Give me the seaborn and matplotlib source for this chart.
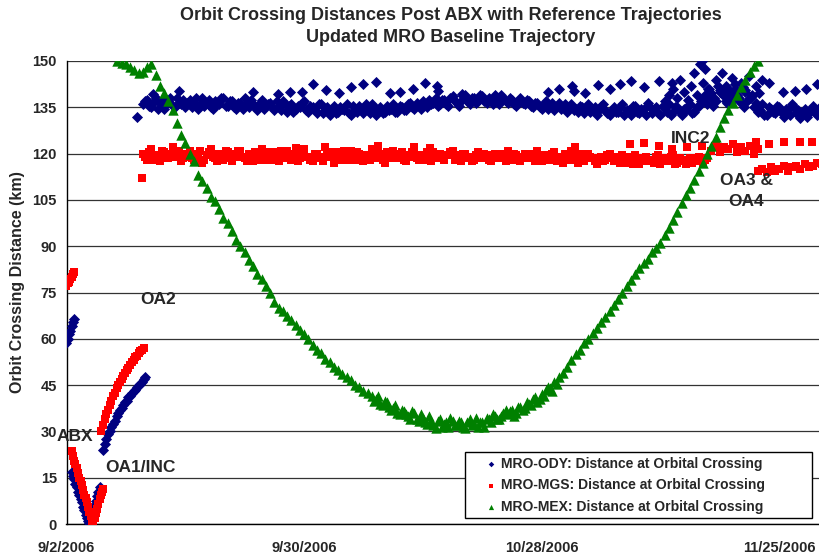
import numpy as np
import pandas as pd
import matplotlib
matplotlib.use("Agg")
import matplotlib.pyplot as plt
import seaborn as sns

# Day 0 of the chart
start_date = "2006-09-02"
tick_labels = ["9/2/2006", "9/30/2006", "10/28/2006", "11/25/2006"]
y_ticks = [0, 15, 30, 45, 60, 75, 90, 105, 120, 135, 150]

# ---------------- MRO-ODY (days since 9/2/2006, km) ----------------
ody_a_days = [0.0, 0.15, 0.3, 0.45, 0.6, 0.75, 0.9]
ody_a_vals = [58.5, 60, 61.5, 62.5, 64, 65.5, 66.5]

ody_b_days = np.arange(0.6, 3.91, 0.15)
ody_b_vals = [17, 15.5, 14.5, 13, 12, 10.5, 9.5, 8, 7, 5.5, 4.5, 3, 2, 1, 0.3,
              1.5, 3, 4.5, 6, 7.5, 9, 10.5, 12]

ody_c_days = np.arange(4.3, 9.31, 0.2)
ody_c_vals = [24, 26, 27.5, 29, 30, 31.5, 32.5, 33.5, 35, 36, 37, 37.5, 38.5,
              39.5, 40, 41, 41.5, 42.5, 43, 43.5, 44.5, 45, 45.5, 46, 47, 47.5]

ody_band_days = np.arange(9.0, 89.01, 0.5)
ody_band_vals = [
    136, 137.5, 135, 138, 136.5, 134.5, 137, 135.5, 138, 136,
    135, 137.5, 136, 134.5, 138, 136.5, 135, 137, 136, 138,
    135.5, 137, 134.5, 136.5, 138, 135, 136, 134, 137.5, 135.5,
    136.5, 134, 135.5, 137, 133.5, 136, 134.5, 135, 137, 133.5,
    135, 133, 136, 134, 132.5, 135.5, 133.5, 134.5, 136, 132.5,
    134, 135.5, 133, 134.5, 136, 132.5, 135, 133.5, 134, 136,
    133.5, 135, 134, 136.5, 134.5, 135.5, 137, 135, 136, 138,
    136, 137.5, 135.5, 138.5, 136.5, 137, 139, 136, 138, 137,
    138.5, 136.5, 137.5, 139, 136, 138, 136.5, 137.5, 135.5, 138,
    136, 137, 135, 136.5, 134.5, 137, 135.5, 134, 136.5, 135,
    133.5, 136, 134.5, 135.5, 133, 136, 134, 132.5, 135.5, 134,
    132.5, 135, 133.5, 136, 134, 132.5, 135.5, 133, 134.5, 136.5,
    133, 135, 132.5, 134.5, 136, 133.5, 135, 132.5, 134, 136,
    133.5, 135.5, 138, 136, 139.5, 137, 140, 138.5, 141, 137.5,
    139, 136.5, 140.5, 138, 135, 133.5, 136, 132.5, 134.5, 133,
    135, 132, 134, 136, 133, 131.5, 134.5, 133, 135.5, 132.5,
    134,
]

ody_band2_days = np.arange(9.25, 88.76, 0.5)
ody_band2_vals = [
    137, 135.5, 136.5, 134.5, 137.5, 136, 138, 135, 136.5, 137.5,
    136.5, 135, 138, 136, 135.5, 137.5, 134.5, 136, 138, 135.5,
    137, 135, 136.5, 134.5, 136, 137.5, 135, 136.5, 134.5, 136,
    135, 137, 134, 136, 135.5, 133.5, 135.5, 136.5, 134, 135.5,
    134, 136, 133, 135, 134.5, 133, 135, 134, 133, 135.5,
    133.5, 134.5, 136, 133, 135, 134, 133, 135.5, 134.5, 133.5,
    135.5, 134, 136, 135, 136.5, 134.5, 136, 137.5, 136.5, 135.5,
    137.5, 136, 138, 137, 135.5, 138.5, 137, 138, 136.5, 139,
    137, 138, 136, 137.5, 139, 137, 138, 136, 137, 136.5,
    137.5, 135.5, 136.5, 135, 136, 134.5, 136.5, 135.5, 134.5, 136,
    135, 134, 133.5, 135, 134.5, 133.5, 135, 134, 136, 133,
    134, 133.5, 135, 132.5, 134, 135.5, 133.5, 134.5, 132.5, 135,
    134.5, 133, 135.5, 133.5, 132.5, 135, 133.5, 134.5, 135.5, 133,
    135, 137, 139, 141, 138, 142, 139.5, 137, 140, 142.5,
    138, 141.5, 137, 139, 136.5, 134, 132.5, 135, 133.5, 135.5,
    133.5, 134.5, 132.5, 135, 134, 133, 132, 134.5, 133.5, 135,
]

ody_out_days = [8.3, 10.2, 13.3, 22.0, 24.9, 26.3, 27.8, 29.1, 30.6, 32.1, 33.5,
                35.0, 36.5, 38.1, 39.3, 40.8, 42.3, 43.7, 43.8, 46.6, 56.8, 58.1,
                59.6, 59.8, 61.1, 62.6, 64.0, 65.2, 66.5, 68.0, 69.8, 71.3, 82.8,
                84.4, 85.9, 87.1, 88.5]
ody_out_vals = [132, 139.3, 140.3, 140, 139.3, 140, 140, 142.5, 140.6, 139.6, 141.6,
                142.5, 143.2, 139.6, 140, 141, 142.9, 141.9, 140.3, 139.3, 140, 141,
                141.9, 140.3, 139.6, 142.2, 141, 142.5, 143.5, 141.5, 143.5, 143, 143,
                140, 140.3, 141, 142.5]

ody_cloud_days = [70.5, 71.0, 71.5, 72.0, 72.3, 72.8, 73.2, 73.6, 74.0, 74.3, 74.7,
                  74.9, 75.0, 75.3, 75.6, 76.0, 76.2, 76.5, 77.0, 77.3, 77.7, 77.8,
                  78.0, 78.4, 78.8, 79.2, 79.5, 79.8, 80.0, 80.4, 80.8, 81.2, 81.6, 82.0]
ody_cloud_vals = [137, 139, 141, 138, 144, 140, 137.5, 142, 146, 139, 149,
                  150, 143, 147.5, 141, 138, 135.5, 144, 140.5, 146, 142, 136.5,
                  139, 144.5, 141, 137.5, 143, 135, 140, 145, 138.5, 142, 139.5, 144]

# ---------------- MRO-MGS ----------------
mgs_a_days = [0.0, 0.15, 0.3, 0.45, 0.6, 0.75, 0.9]
mgs_a_vals = [77, 78, 78.5, 79.5, 80, 81, 81.5]

mgs_b_days = np.arange(0.6, 4.36, 0.15)
mgs_b_vals = [23.5, 22, 20.5, 19.5, 18, 16.5, 15, 14, 12.5, 11, 9.5, 8.5, 7,
              5.5, 4, 2.5, 1, 0.5, 2, 3.5, 5, 6.5, 8, 9.5, 10.5, 11.5]

mgs_c_days = np.arange(4.1, 9.11, 0.2)
mgs_c_vals = [30, 32, 34, 35.5, 37, 38.5, 40, 41.5, 42.5, 44, 45, 46, 47, 48,
              49, 50, 50.5, 51.5, 52.5, 53, 54, 54.5, 55.5, 56, 56.5, 57]

mgs_band_days = np.arange(9.0, 75.51, 0.5)
mgs_band_vals = [
    120, 118, 121.5, 119, 117.5, 120.5, 118.5, 122, 119.5, 117.5,
    119, 121, 118, 120, 117, 119.5, 121.5, 118.5, 120, 118,
    120.5, 117.5, 119, 121, 118.5, 120, 117.5, 119.5, 121.5, 118,
    119, 120.5, 117.5, 119.5, 121, 118, 120, 118.5, 121.5, 119,
    117.5, 120, 118.5, 122, 119, 117, 120.5, 118, 119.5, 121,
    118, 120, 117.5, 119.5, 121.5, 118.5, 120, 117, 119, 121,
    118.5, 120.5, 117.5, 119, 121, 118, 119.5, 120.5, 117.5, 119,
    120, 118, 119.5, 121, 118.5, 117.5, 120, 119, 118, 120.5,
    118.5, 119.5, 117.5, 120, 118.5, 119, 121, 118, 119.5, 117.5,
    120, 118.5, 119, 121, 117.5, 119.5, 118, 120.5, 118.5, 117,
    119.5, 121, 118, 119, 117.5, 120, 118.5, 116.5, 119, 118,
    120, 117.5, 118.5, 119.5, 117, 118, 119.5, 116.5, 118.5, 117.5,
    118, 119, 116.5, 118.5, 117.5, 119.5, 117, 118, 116.5, 118.5,
    117.5, 119, 117, 118.5,
]

mgs_band2_days = np.arange(9.25, 75.26, 0.5)
mgs_band2_vals = [
    119, 120.5, 118, 119.5, 121, 118.5, 120, 119, 121, 118.5,
    120, 118.5, 119.5, 121, 118, 120.5, 119, 117.5, 120, 121,
    118.5, 120, 121, 119, 117.5, 119.5, 120.5, 118, 119, 120.5,
    118, 119.5, 121, 118.5, 120, 119, 117.5, 120.5, 119, 118,
    120, 119, 117.5, 119.5, 120.5, 118.5, 119, 121, 118, 119.5,
    120.5, 118.5, 119.5, 118, 120, 119.5, 118, 120.5, 118.5, 119.5,
    120, 118, 119.5, 120.5, 118.5, 119.5, 118, 119, 120.5, 118.5,
    118.5, 119.5, 120.5, 118, 119.5, 120, 118.5, 117.5, 119.5, 118.5,
    120, 118, 119.5, 118.5, 120, 117.5, 119, 120, 118.5, 119,
    118.5, 120, 117.5, 119, 119.5, 118, 120, 117.5, 119, 120,
    118, 119.5, 117, 120, 118.5, 119, 117.5, 118.5, 117.5, 119.5,
    118.5, 119, 117, 118, 119, 116.5, 118.5, 117.5, 119, 118,
    117, 119.5, 117.5, 118, 119, 116.5, 118.5, 117.5, 118, 117,
    118.5, 117.5, 118,
]

mgs_out_days = [8.9, 27.0, 36.7, 41.0, 42.8, 59.9]
mgs_out_vals = [112, 121.8, 122.4, 122, 121.7, 122.3]

mgs_inc2_days = [76.0, 76.5, 77.0, 77.5, 78.0, 78.5, 79.0, 79.5, 80.0, 80.5, 81.0, 81.5]
mgs_inc2_vals = [121, 122.5, 120.5, 122, 121.5, 123, 120.5, 122, 121, 122.5, 120, 121.5]

mgs_upper_days = [66.4, 68.0, 69.8, 71.4, 73.1, 74.9, 81.2, 82.8, 84.6, 86.4, 87.9]
mgs_upper_vals = [123, 123.3, 122.4, 121.4, 122, 122.4, 123.7, 123, 123.7, 123.7, 123.7]

mgs_oa3_days = np.arange(81.5, 89.01, 0.5)
mgs_oa3_vals = [114.5, 115, 114, 115.5, 114.5, 115, 116, 114.5, 115.5, 116,
                115, 116.5, 115.5, 116, 117, 116.5]

# ---------------- MRO-MEX ----------------
mex_days = np.arange(6.0, 81.51, 0.5)
mex_vals = [
    150, 149.5, 149, 148, 147, 146, 146.5, 148, 149, 145.5,
    142, 139.5, 137, 134, 130, 126, 123.5, 120, 117.5, 113,
    111, 109, 106, 104.5, 102, 99, 97.5, 95, 92, 90,
    88, 85.5, 83.5, 81, 79.5, 77, 75, 72, 70, 69,
    67.5, 66, 64.5, 63, 61.5, 60, 58, 56.5, 55.5, 53.5,
    52.5, 51, 50, 48.5, 47.5, 46.5, 45, 44.5, 43, 42.5,
    41.5, 40.5, 39, 40, 38, 37.5, 36, 37, 35.5, 34,
    36, 33.5, 34.5, 32.5, 33.5, 31, 34, 32.5, 31.5, 33.5,
    32, 33, 31, 34, 32.5, 31.5, 33, 34.5, 33, 35,
    34, 36, 35.5, 37, 36, 38, 37.5, 39, 40.5, 39.5,
    42, 43.5, 44, 46, 47.5, 49, 51, 53, 55, 56.5,
    58.5, 60, 62, 63.5, 65.5, 67, 69, 71, 73, 75,
    77, 79, 81, 83, 84.5, 86, 88, 89.5, 91, 93.5,
    96, 98.5, 101, 104, 106.5, 109, 111.5, 114.5, 117, 120,
    122.5, 125.5, 128.5, 131.5, 134, 136.5, 139, 141.5, 144, 146.5,
    148.5, 150,
]

mex2_days = np.arange(36.25, 57.76, 0.5)
mex2_vals = [
    40, 41.5, 38.5, 39.5, 37, 38.5, 35.5, 36.5, 35, 36.5,
    34, 35.5, 33, 35, 32, 33.5, 31.5, 33, 34.5, 32,
    33.5, 31.5, 33, 32, 34.5, 33, 31.5, 34, 35.5, 34,
    35, 37, 36.5, 35, 38, 37, 39.5, 38.5, 41, 40.5,
    41.5, 44.5, 43, 45.5,
]

labels = ["MRO-ODY: Distance at Orbital Crossing",
          "MRO-MGS: Distance at Orbital Crossing",
          "MRO-MEX: Distance at Orbital Crossing"]

t0 = pd.Timestamp(start_date)


def to_dates(days):
    return t0 + pd.to_timedelta(np.asarray(days, dtype=float), unit="D")


def frame(parts):
    d = np.concatenate([np.asarray(p[0], dtype=float) for p in parts])
    v = np.concatenate([np.asarray(p[1], dtype=float) for p in parts])
    return pd.DataFrame({"date": to_dates(d), "km": v})


ody = frame([(ody_a_days, ody_a_vals), (ody_b_days, ody_b_vals), (ody_c_days, ody_c_vals),
             (ody_band_days, ody_band_vals), (ody_band2_days, ody_band2_vals),
             (ody_out_days, ody_out_vals), (ody_cloud_days, ody_cloud_vals)])
mgs = frame([(mgs_a_days, mgs_a_vals), (mgs_b_days, mgs_b_vals), (mgs_c_days, mgs_c_vals),
             (mgs_band_days, mgs_band_vals), (mgs_band2_days, mgs_band2_vals),
             (mgs_out_days, mgs_out_vals), (mgs_inc2_days, mgs_inc2_vals),
             (mgs_upper_days, mgs_upper_vals), (mgs_oa3_days, mgs_oa3_vals)])
mex = frame([(mex_days, mex_vals), (mex2_days, mex2_vals)])

sns.set_style("white")
plt.rcParams["font.family"] = ["Liberation Sans", "DejaVu Sans"]
plt.rcParams["font.weight"] = "bold"

fig = plt.figure(figsize=(8.2, 5.56), dpi=100)
ax = fig.add_axes([66.5 / 820, 32 / 556, 753.5 / 820, 463 / 556])

sns.scatterplot(data=ody, x="date", y="km", marker="D", s=32, color="#000080",
                linewidth=0, label=labels[0], ax=ax, zorder=3)
sns.scatterplot(data=mgs, x="date", y="km", marker="s", s=36, color="#FF0000",
                linewidth=0, label=labels[1], ax=ax, zorder=4)
sns.scatterplot(data=mex, x="date", y="km", marker="^", s=56, color="#008000",
                linewidth=0, label=labels[2], ax=ax, zorder=5)

ax.set_ylim(0, 150)
ax.set_yticks(y_ticks)
ax.set_xlim(t0, t0 + pd.Timedelta(days=88.8))
ax.set_xticks(pd.to_datetime(tick_labels, format="%m/%d/%Y"))
ax.set_xticklabels(tick_labels)
ax.yaxis.grid(True, color="#333333", linewidth=0.9)
ax.set_axisbelow(True)
for side in ["top", "right"]:
    ax.spines[side].set_visible(False)
for side in ["left", "bottom"]:
    ax.spines[side].set_color("black")
    ax.spines[side].set_linewidth(1)
ax.tick_params(axis="both", direction="out", length=4, width=1, color="black",
               labelsize=10.5)
ax.tick_params(axis="x", pad=8)
ax.tick_params(axis="y", pad=3)
ax.set_xlabel("")
ax.set_ylabel("Orbit Crossing Distance (km)", fontsize=11.5, fontweight="bold")
ax.yaxis.set_label_coords(-0.055, 0.522)

fig.text(451 / 820, 1 - 16 / 556,
         "Orbit Crossing Distances Post ABX with Reference Trajectories",
         ha="center", va="center", fontsize=13, fontweight="bold")
fig.text(451 / 820, 1 - 37 / 556, "Updated MRO Baseline Trajectory",
         ha="center", va="center", fontsize=13, fontweight="bold")

notes = [("ABX", 1.0, 28.2), ("OA1/INC", 8.7, 18.3), ("OA2", 10.8, 72.8),
         ("INC2", 73.5, 125.0), ("OA3 &\nOA4", 80.1, 107.8)]
for txt, d, v in notes:
    ax.text(t0 + pd.Timedelta(days=d), v, txt, ha="center", va="center",
            fontsize=12.5, fontweight="bold", linespacing=1.5, zorder=6)

leg = ax.legend(loc="lower left", bbox_to_anchor=(0.529, 0.013, 0.4605, 0.1),
                mode="expand", borderaxespad=0, fancybox=False, framealpha=1,
                edgecolor="black", fontsize=10, markerscale=0.5,
                handlelength=3.17, handletextpad=-0.86, labelspacing=0.55,
                borderpad=0.3)
leg.get_frame().set_linewidth(1)

fig.savefig("out.png", dpi=100)
